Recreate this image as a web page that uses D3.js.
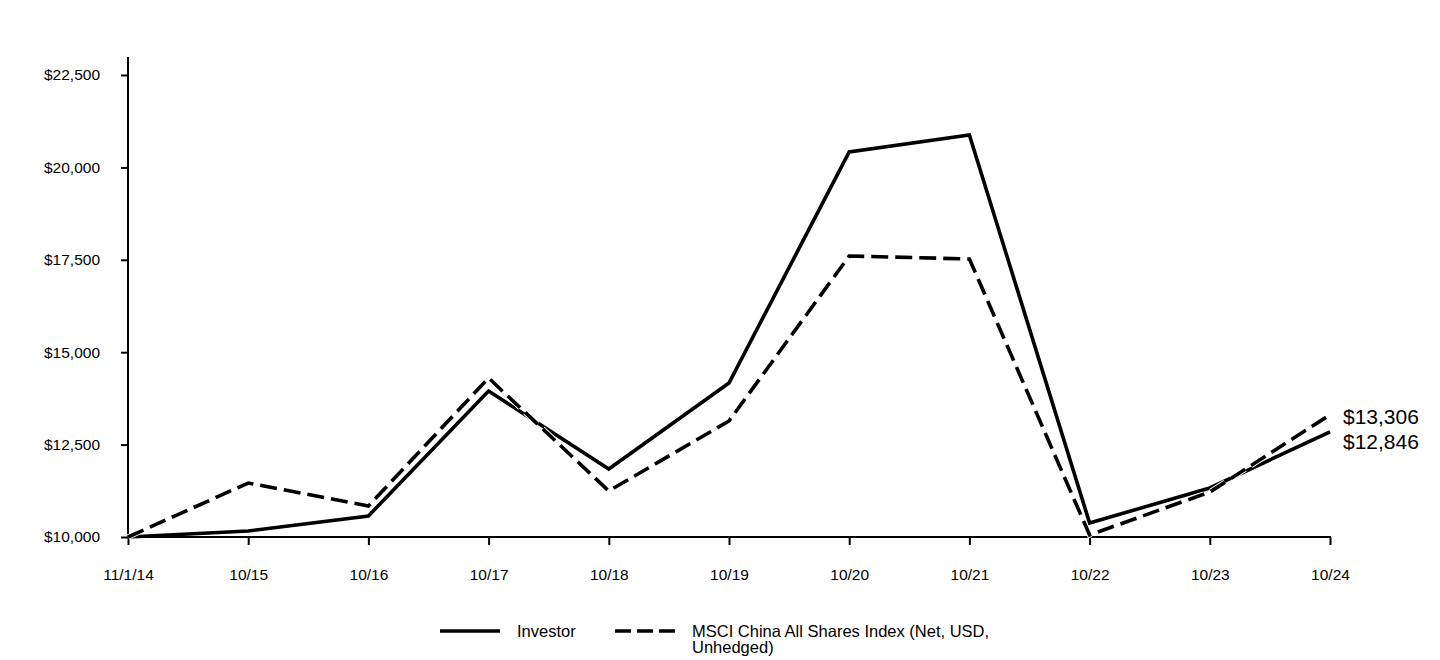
<!DOCTYPE html>
<html><head><meta charset="utf-8">
<script src="https://cdn.jsdelivr.net/npm/d3@7"></script>
<style>body{margin:0;background:#fff;}svg{display:block;font-family:"Liberation Sans",Arial,sans-serif;}</style>
</head><body>
<svg id="c" width="1440" height="660"></svg>
<script>
const categories = ["11/1/14","10/15","10/16","10/17","10/18","10/19","10/20","10/21","10/22","10/23","10/24"];
const investor = [10000,10162,10568,13950,11840,14167,20417,20877,10379,11326,12846];
const msci = [10000,11461,10839,14302,11245,13139,17603,17522,10054,11218,13306];
const yTicks = [10000,12500,15000,17500,20000,22500];
const seriesNames = ["Investor","MSCI China All Shares Index (Net, USD,","Unhedged)"];
const endLabels = ["$13,306","$12,846"];

const svg = d3.select("#c");
const x = d3.scalePoint().domain(categories).range([128,1330]);
const y = d3.scaleLinear().domain([10000,22500]).range([537,75]);
const fmt = v => "$" + d3.format(",")(v);
const FF = "Liberation Sans, Arial, sans-serif";

// Y axis
const ya = svg.append("g").attr("transform","translate(128,0)")
  .call(d3.axisLeft(y).tickValues(yTicks).tickFormat(fmt).tickSize(7).tickPadding(21));
ya.select(".domain").remove();
ya.append("line").attr("x1",0).attr("x2",0).attr("y1",57).attr("y2",538).attr("stroke","#000").attr("stroke-width",2);
ya.selectAll(".tick line").attr("stroke","#000").attr("stroke-width",2);
ya.selectAll(".tick text").attr("font-size",15.5).attr("fill","#000").attr("font-family",FF);

// X axis
const xa = svg.append("g").attr("transform","translate(0,537)")
  .call(d3.axisBottom(x).tickSize(8).tickPadding(24));
xa.select(".domain").remove();
xa.append("line").attr("x1",127).attr("x2",1331).attr("y1",0).attr("y2",0).attr("stroke","#000").attr("stroke-width",2);
xa.selectAll(".tick line").attr("stroke","#000").attr("stroke-width",2);
xa.selectAll(".tick text").attr("font-size",15.5).attr("fill","#000").attr("font-family",FF);

const line = d3.line().x((d,i)=>x(categories[i])).y(d=>y(d));

// Investor solid
svg.append("path").datum(investor).attr("d",line).attr("fill","none")
  .attr("stroke","#000").attr("stroke-width",3.6).attr("stroke-linejoin","miter");
// MSCI dashed with white casing
svg.append("path").datum(msci).attr("d",line).attr("fill","none")
  .attr("stroke","#fff").attr("stroke-width",5.5).attr("stroke-dasharray","17,7");
svg.append("path").datum(msci).attr("d",line).attr("fill","none")
  .attr("stroke","#000").attr("stroke-width",3.6).attr("stroke-dasharray","17,7");

// End labels
const lx = x(categories[categories.length-1]) + 13;
svg.append("text").attr("x",lx).attr("y",y(msci[msci.length-1])+9).attr("font-size",21).text(endLabels[0]);
svg.append("text").attr("x",lx).attr("y",y(investor[investor.length-1])+17).attr("font-size",21).text(endLabels[1]);

// Legend
const lg = svg.append("g");
lg.append("line").attr("x1",440).attr("x2",500).attr("y1",631).attr("y2",631).attr("stroke","#000").attr("stroke-width",3.6);
lg.append("text").attr("x",517).attr("y",637).attr("font-size",16.5).text(seriesNames[0]);
lg.append("line").attr("x1",615).attr("x2",675).attr("y1",631).attr("y2",631).attr("stroke","#000").attr("stroke-width",3.6).attr("stroke-dasharray","16,6");
lg.append("text").attr("x",692).attr("y",637).attr("font-size",16.5).text(seriesNames[1]);
lg.append("text").attr("x",692).attr("y",653).attr("font-size",16.5).text(seriesNames[2]);
</script>
</body></html>
